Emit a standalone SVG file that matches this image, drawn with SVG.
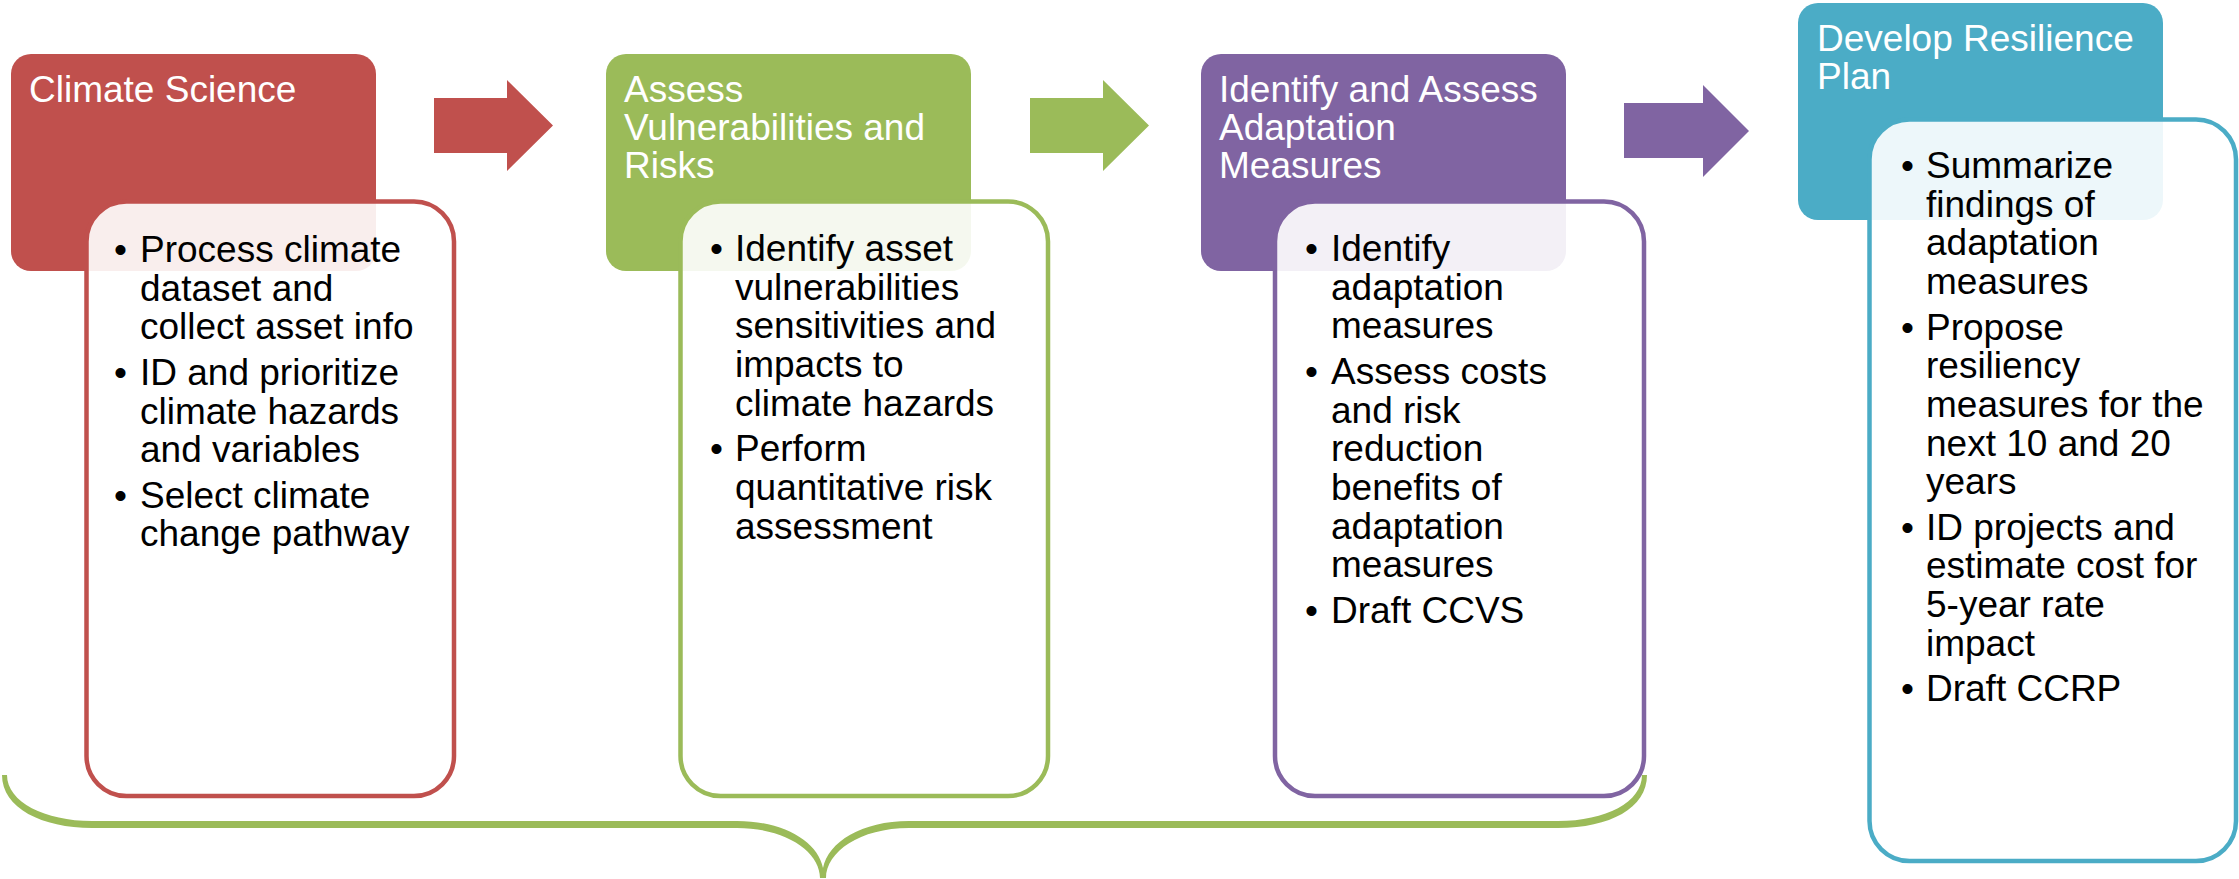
<svg xmlns="http://www.w3.org/2000/svg" width="2239" height="879" viewBox="0 0 2239 879">
  <style>
    .title { font-family: "Liberation Sans", Arial, sans-serif; font-size: 37px; fill: #ffffff; }
    .body { font-family: "Liberation Sans", Arial, sans-serif; font-size: 37px; fill: #000000; }
    .card { fill: #ffffff; fill-opacity: 0.9; stroke-width: 4.5; }
    .red { fill: #C0504D; }
    .green { fill: #9BBB59; }
    .purple { fill: #8064A2; }
    .teal { fill: #4BACC6; }
  </style>
  <rect width="2239" height="879" fill="#ffffff"/>

  <!-- Stage 1: Climate Science -->
  <g id="stage-climate-science">
    <rect class="red" x="11" y="54" width="365" height="217" rx="20"/>
    <text class="title" x="29" y="102">Climate Science</text>
    <rect class="card" x="86.5" y="201.5" width="367.5" height="594.5" rx="40" stroke="#C0504D"/>
    <text class="body" x="114" y="262">•</text>
    <text class="body" x="140" y="262">Process climate</text>
    <text class="body" x="140" y="300.7">dataset and</text>
    <text class="body" x="140" y="339.4">collect asset info</text>
    <text class="body" x="114" y="384.8">•</text>
    <text class="body" x="140" y="384.8">ID and prioritize</text>
    <text class="body" x="140" y="423.5">climate hazards</text>
    <text class="body" x="140" y="462.2">and variables</text>
    <text class="body" x="114" y="507.6">•</text>
    <text class="body" x="140" y="507.6">Select climate</text>
    <text class="body" x="140" y="546.3">change pathway</text>
  </g>

  <!-- Stage 2: Assess Vulnerabilities and Risks -->
  <g id="stage-vulnerabilities">
    <rect class="green" x="606" y="54" width="365" height="217" rx="20"/>
    <text class="title" x="624" y="102">Assess</text>
    <text class="title" x="624" y="140">Vulnerabilities and</text>
    <text class="title" x="624" y="178">Risks</text>
    <rect class="card" x="680.5" y="201.5" width="367.5" height="594.5" rx="40" stroke="#9BBB59"/>
    <text class="body" x="710" y="261">•</text>
    <text class="body" x="735" y="261">Identify asset</text>
    <text class="body" x="735" y="299.7">vulnerabilities</text>
    <text class="body" x="735" y="338.4">sensitivities and</text>
    <text class="body" x="735" y="377.1">impacts to</text>
    <text class="body" x="735" y="415.8">climate hazards</text>
    <text class="body" x="710" y="461.2">•</text>
    <text class="body" x="735" y="461.2">Perform</text>
    <text class="body" x="735" y="499.9">quantitative risk</text>
    <text class="body" x="735" y="538.6">assessment</text>
  </g>

  <!-- Stage 3: Identify and Assess Adaptation Measures -->
  <g id="stage-adaptation">
    <rect class="purple" x="1201" y="54" width="365" height="217" rx="20"/>
    <text class="title" x="1219" y="102">Identify and Assess</text>
    <text class="title" x="1219" y="140">Adaptation</text>
    <text class="title" x="1219" y="178">Measures</text>
    <rect class="card" x="1275" y="201.5" width="369" height="594.5" rx="40" stroke="#8064A2"/>
    <text class="body" x="1305" y="261">•</text>
    <text class="body" x="1331" y="261">Identify</text>
    <text class="body" x="1331" y="299.7">adaptation</text>
    <text class="body" x="1331" y="338.4">measures</text>
    <text class="body" x="1305" y="383.8">•</text>
    <text class="body" x="1331" y="383.8">Assess costs</text>
    <text class="body" x="1331" y="422.5">and risk</text>
    <text class="body" x="1331" y="461.2">reduction</text>
    <text class="body" x="1331" y="499.9">benefits of</text>
    <text class="body" x="1331" y="538.6">adaptation</text>
    <text class="body" x="1331" y="577.3">measures</text>
    <text class="body" x="1305" y="622.7">•</text>
    <text class="body" x="1331" y="622.7">Draft CCVS</text>
  </g>

  <!-- Stage 4: Develop Resilience Plan -->
  <g id="stage-resilience-plan">
    <rect class="teal" x="1798" y="3" width="365" height="217" rx="20"/>
    <text class="title" x="1817" y="51">Develop Resilience</text>
    <text class="title" x="1817" y="89">Plan</text>
    <rect class="card" x="1869.5" y="119.5" width="366.5" height="741.5" rx="40" stroke="#4BACC6"/>
    <text class="body" x="1901" y="178">•</text>
    <text class="body" x="1926" y="178">Summarize</text>
    <text class="body" x="1926" y="216.7">findings of</text>
    <text class="body" x="1926" y="255.4">adaptation</text>
    <text class="body" x="1926" y="294.1">measures</text>
    <text class="body" x="1901" y="339.5">•</text>
    <text class="body" x="1926" y="339.5">Propose</text>
    <text class="body" x="1926" y="378.2">resiliency</text>
    <text class="body" x="1926" y="416.9">measures for the</text>
    <text class="body" x="1926" y="455.6">next 10 and 20</text>
    <text class="body" x="1926" y="494.3">years</text>
    <text class="body" x="1901" y="539.7">•</text>
    <text class="body" x="1926" y="539.7">ID projects and</text>
    <text class="body" x="1926" y="578.4">estimate cost for</text>
    <text class="body" x="1926" y="617.1">5-year rate</text>
    <text class="body" x="1926" y="655.8">impact</text>
    <text class="body" x="1901" y="701.2">•</text>
    <text class="body" x="1926" y="701.2">Draft CCRP</text>
  </g>

  <!-- Connectors: block arrows between stages and the grouping brace -->
  <g id="connectors">
    <polygon class="red" points="434,98 507,98 507,80 553,125.5 507,171 507,153 434,153"/>
    <polygon class="green" points="1030,98 1103,98 1103,80 1149,125.5 1103,171 1103,153 1030,153"/>
    <polygon class="purple" points="1624,103 1703,103 1703,85 1749,131 1703,177 1703,158 1624,158"/>
    <path class="green" d="M 2 775 C 2 808 42 828 92 828 L 737 828 C 786 828 820 852 820 878 L 826 878 C 826 852 860 828 909 828 L 1558 828 C 1610 828 1647 808 1647 775 L 1642 775 C 1642 802 1606 821 1558 821 L 909 821 C 862 821 828 842 823 868 C 818 842 784 821 737 821 L 92 821 C 45 821 7 802 7 775 Z"/>
  </g>
</svg>
